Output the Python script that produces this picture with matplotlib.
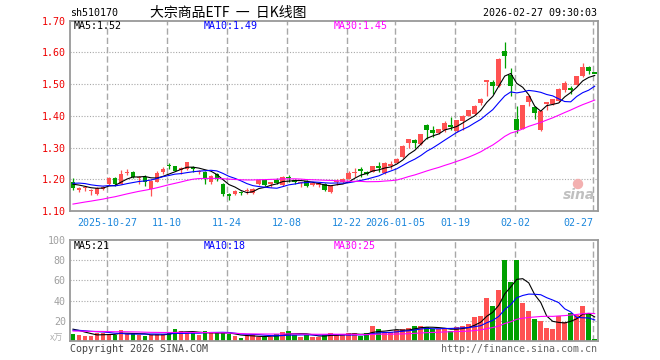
import matplotlib.pyplot as plt
import numpy as np
import pandas as pd

plt.rcParams['font.family'] = ['DejaVu Sans Mono', 'Noto Sans CJK SC']

# ================== DATA ==================

tick_idx = [6, 16, 26, 36, 46, 54, 64, 74, 87]
tick_labels = ['2025-10-27', '11-10', '11-24', '12-08', '12-22',
               '2026-01-05', '01-19', '02-02', '02-27']

open_ = [1.191, 1.166, 1.172, 1.164, 1.155, 1.170, 1.184, 1.205, 1.186, 1.220,
         1.222, 1.204, 1.207, 1.170, 1.193, 1.222, 1.244, 1.241, 1.232, 1.231,
         1.236, 1.222, 1.222, 1.190, 1.216, 1.186, 1.152, 1.153, 1.160, 1.164,
         1.158, 1.184, 1.197, 1.184, 1.197, 1.182, 1.206, 1.197, 1.189, 1.196,
         1.181, 1.184, 1.186, 1.159, 1.192, 1.191, 1.202, 1.220, 1.231, 1.220,
         1.224, 1.239, 1.220, 1.244, 1.252, 1.269, 1.314, 1.323, 1.311, 1.370,
         1.356, 1.345, 1.356, 1.369, 1.353, 1.384, 1.400, 1.405, 1.439, 1.508,
         1.506, 1.493, 1.605, 1.530, 1.391, 1.360, 1.443, 1.429, 1.356, 1.439,
         1.436, 1.446, 1.481, 1.486, 1.498, 1.525, 1.553, 1.536]

high = [1.205, 1.175, 1.178, 1.170, 1.176, 1.180, 1.206, 1.207, 1.230, 1.232,
        1.225, 1.210, 1.214, 1.198, 1.226, 1.238, 1.252, 1.243, 1.238, 1.255,
        1.243, 1.230, 1.225, 1.212, 1.220, 1.188, 1.158, 1.165, 1.164, 1.172,
        1.172, 1.199, 1.199, 1.193, 1.205, 1.209, 1.215, 1.200, 1.193, 1.198,
        1.192, 1.190, 1.188, 1.182, 1.200, 1.204, 1.225, 1.234, 1.240, 1.226,
        1.242, 1.254, 1.254, 1.259, 1.266, 1.308, 1.328, 1.328, 1.344, 1.373,
        1.368, 1.360, 1.384, 1.397, 1.388, 1.402, 1.419, 1.433, 1.455, 1.514,
        1.514, 1.582, 1.634, 1.550, 1.431, 1.435, 1.466, 1.432, 1.418, 1.445,
        1.454, 1.488, 1.509, 1.495, 1.527, 1.568, 1.558, 1.536]

low = [1.165, 1.160, 1.162, 1.152, 1.150, 1.165, 1.182, 1.180, 1.184, 1.212,
       1.203, 1.186, 1.179, 1.147, 1.190, 1.218, 1.233, 1.225, 1.216, 1.229,
       1.222, 1.218, 1.186, 1.186, 1.196, 1.147, 1.134, 1.150, 1.152, 1.155,
       1.155, 1.182, 1.178, 1.176, 1.185, 1.180, 1.190, 1.186, 1.175, 1.176,
       1.178, 1.176, 1.162, 1.156, 1.182, 1.188, 1.200, 1.208, 1.207, 1.212,
       1.222, 1.224, 1.218, 1.233, 1.250, 1.266, 1.300, 1.300, 1.309, 1.328,
       1.332, 1.343, 1.350, 1.356, 1.348, 1.356, 1.398, 1.403, 1.435, 1.462,
       1.470, 1.490, 1.550, 1.462, 1.347, 1.358, 1.431, 1.391, 1.352, 1.420,
       1.433, 1.443, 1.475, 1.470, 1.496, 1.523, 1.532, 1.534]

close = [1.172, 1.172, 1.175, 1.166, 1.173, 1.175, 1.205, 1.184, 1.217, 1.223,
         1.207, 1.206, 1.191, 1.196, 1.220, 1.233, 1.242, 1.227, 1.234, 1.254,
         1.234, 1.227, 1.202, 1.211, 1.200, 1.155, 1.149, 1.163, 1.157, 1.166,
         1.170, 1.198, 1.182, 1.190, 1.188, 1.207, 1.204, 1.190, 1.191, 1.178,
         1.189, 1.186, 1.165, 1.180, 1.194, 1.200, 1.220, 1.223, 1.229, 1.219,
         1.241, 1.237, 1.252, 1.246, 1.264, 1.306, 1.327, 1.314, 1.342, 1.356,
         1.345, 1.358, 1.377, 1.367, 1.386, 1.400, 1.417, 1.431, 1.452, 1.512,
         1.495, 1.579, 1.589, 1.493, 1.356, 1.433, 1.462, 1.408, 1.415, 1.443,
         1.452, 1.485, 1.504, 1.484, 1.525, 1.553, 1.540, 1.534]

# volume in 万
volume = [6.5, 5.7, 4.7, 4.7, 7.3, 7.3, 6.7, 5.7, 10.7, 6.7,
          6.3, 5.7, 4.7, 5.7, 6.7, 6.3, 8.7, 11.7, 9.7, 8.0,
          7.3, 5.7, 9.7, 8.3, 7.3, 7.3, 6.3, 4.7, 2.7, 4.7,
          5.7, 4.0, 4.0, 4.0, 6.3, 9.0, 10.0, 5.7, 4.0, 5.7,
          4.0, 4.0, 5.7, 7.3, 5.7, 6.3, 7.3, 7.3, 5.0, 7.3,
          14.7, 11.7, 9.0, 9.0, 10.7, 11.7, 13.0, 14.7, 14.7, 13.3,
          11.3, 11.3, 11.7, 9.7, 13.3, 14.7, 16.3, 23.3, 24.7, 42.7,
          34.7, 50.7, 80.7, 58.7, 80.7, 38.0, 30.0, 21.7, 20.0, 13.0,
          11.7, 24.7, 19.0, 28.0, 25.7, 34.7, 28.0, 2.0]

# sessions before the visible window, estimated from where the MA lines start
prior_close = [1.075, 1.078, 1.080, 1.076, 1.082, 1.085, 1.081, 1.084, 1.087, 1.083,
               1.086, 1.090, 1.088, 1.092, 1.089, 1.095, 1.100, 1.104, 1.110, 1.117,
               1.165, 1.190, 1.205, 1.198, 1.192, 1.186, 1.195, 1.188, 1.182]
prior_volume = [8, 9, 10, 8, 9, 11, 10, 9, 8, 10,
                9, 11, 10, 8, 9, 10, 9, 8, 10, 9,
                7, 9, 10, 11, 10, 12, 13, 12, 14]

price_ma_text = ['MA5:1.52', 'MA10:1.49', 'MA30:1.45']
vol_ma_text = ['MA5:21', 'MA10:18', 'MA30:25']

# ================== STYLE ==================

RED = '#ff5252'
GREEN = '#00a000'
MA_COLORS = ['black', '#0000ff', '#ff00ff']
GRID = '#a8a8a8'
FRAME = '#999999'
W, H = 660, 360


def px(x, y):
    return x / W, 1 - y / H


def ma(hist, vals, n):
    s = pd.Series(list(hist) + list(vals))
    return s.rolling(n).mean().values[len(hist):]


n = len(close)
x = np.arange(n)
o = np.array(open_)
c = np.array(close)
up = c >= o
colors = [RED if u else GREEN for u in up]

fig = plt.figure(figsize=(6.6, 3.6), dpi=100)
ax = fig.add_axes([70 / W, 1 - 211 / H, 527.7 / W, 190.3 / H])
axv = fig.add_axes([70 / W, 1 - 340.7 / H, 527.7 / W, 100.4 / H])

for a in (ax, axv):
    a.set_xlim(-0.5, n - 0.5)
    for s in a.spines.values():
        s.set_color(FRAME)
        s.set_linewidth(1.3)
    for i in tick_idx:
        a.axvline(i - 0.3, color=GRID, lw=1, ls=(0, (4.5, 2.2)), zorder=0)
    a.tick_params(length=0, labelsize=7.2)

# ---- price panel ----
ax.set_ylim(1.10, 1.70)
for v in [1.2, 1.3, 1.4, 1.5, 1.6]:
    ax.axhline(v, color=GRID, lw=0.8, ls=(0, (1, 1.5)), zorder=0)
ax.set_yticks([1.1, 1.2, 1.3, 1.4, 1.5, 1.6, 1.7])
ax.set_yticklabels(['%.2f' % v for v in [1.1, 1.2, 1.3, 1.4, 1.5, 1.6, 1.7]],
                   color='#ee0000')
ax.tick_params(axis='y', pad=3)

body_low = np.minimum(o, c)
body_h = np.abs(c - o)
flat = body_h < 0.005
body_low = np.where(flat, (o + c) / 2 - 0.0025, body_low)
body_h = np.where(flat, 0.005, body_h)
ax.vlines(x, low, high, colors=colors, lw=0.9, zorder=2)
ax.bar(x, body_h, bottom=body_low, width=0.8, color=colors, linewidth=0, zorder=3)

for nper, col in zip([5, 10, 30], MA_COLORS):
    ax.plot(x, ma(prior_close, close, nper), color=col, lw=0.8, zorder=4)

ax.set_xticks([i - 0.3 for i in tick_idx])
ax.set_xticklabels(tick_labels, color='#1a86dc')
ax.tick_params(axis='x', pad=5)
ax.get_xticklabels()[-1].set_ha('right')

# ---- volume panel ----
axv.set_ylim(0, 100)
for v in [20, 40, 60, 80]:
    axv.axhline(v, color=GRID, lw=0.8, ls=(0, (1, 1.5)), zorder=0)
axv.set_yticks([20, 40, 60, 80, 100])
axv.set_yticklabels(['20', '40', '60', '80', '100'], color='#a0a0a0')
axv.tick_params(axis='y', pad=3)
axv.set_xticks([])
axv.bar(x, volume, width=0.8, color=colors, linewidth=0, zorder=2)
for nper, col in zip([5, 10, 30], MA_COLORS):
    axv.plot(x, ma(prior_volume, volume, nper), color=col, lw=0.8, zorder=4)

# ---- texts ----
fig.text(*px(70, 13), 'sh510170', fontsize=7.2, va='center')
fig.text(*px(150, 13), '大宗商品ETF  一  日K线图', fontsize=10, va='center',
         family=['Noto Sans CJK SC', 'DejaVu Sans'])
fig.text(*px(597, 13), '2026-02-27 09:30:03', fontsize=7.2, va='center', ha='right')

for xx, t, col in zip([74, 204, 334], price_ma_text, MA_COLORS):
    fig.text(*px(xx, 26), t, fontsize=7.2, va='center', color=col)
for xx, t, col in zip([74, 204, 334], vol_ma_text, MA_COLORS):
    fig.text(*px(xx, 246), t, fontsize=7.2, va='center', color=col)

fig.text(*px(50, 338), 'x万', fontsize=6.5, va='center', color='#b0b0b0',
         family=['Noto Sans CJK SC', 'DejaVu Sans'])
fig.text(*px(70, 349), 'Copyright 2026 SINA.COM', fontsize=7.2, va='center',
         color='#444444')
fig.text(*px(597, 349), 'http://finance.sina.com.cn', fontsize=7.2, va='center',
         ha='right', color='#666666')

# sina watermark: pink "eye" above grey italic text
fig.add_artist(plt.matplotlib.patches.Ellipse(px(578, 184), 9 / W, 9 / H,
                                              transform=fig.transFigure,
                                              color='#f3b0b0', zorder=1))
fig.text(*px(579, 195), 'sina', fontsize=10, va='center', ha='center',
         color='#c0c0c0', style='italic', weight='bold', family='DejaVu Sans')

fig.savefig('out.png', dpi=100)
